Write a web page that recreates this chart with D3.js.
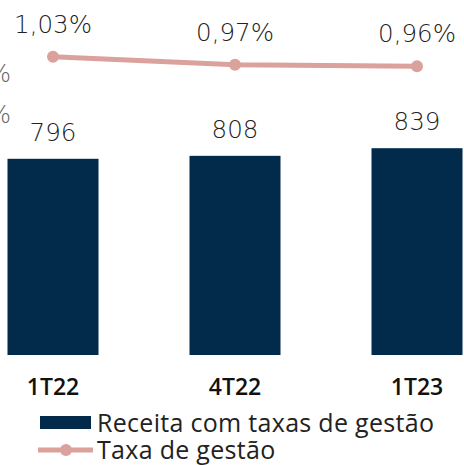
<!DOCTYPE html>
<meta charset="utf-8">
<style>
  body { margin: 0; background: #fff; }
  .val { font-family: "DejaVu Sans", sans-serif; font-weight: 200; font-size: 24.5px; fill: #222; }
  .xlab { font-family: "Open Sans", sans-serif; font-weight: 600; font-size: 23px; fill: #111; }
  .leg { font-family: "Open Sans", sans-serif; font-weight: 400; font-size: 25px; letter-spacing: 0.3px; fill: #222; }
  .ytick { font-family: "DejaVu Sans", sans-serif; font-weight: 200; font-size: 24.5px; fill: #666; }
</style>
<body>
<svg width="464" height="465"></svg>
<script src="https://d3js.org/d3.v7.min.js"></script>
<script>
// dados ---------------------------------------------------------------
var periodos = ["1T22", "4T22", "1T23"];
var receita = [796, 808, 839];
var taxa = [1.03, 0.97, 0.96];
var taxaTicks = [0.6, 0.9];
var legendas = ["Receita com taxas de gestão", "Taxa de gestão"];
//----------------------------------------------------------------------

const svg = d3.select('svg');
const navy = "#022b4b", rosa = "#dba19c";
const fmt = v => d3.format(".2f")(v).replace(".", ",") + "%";

// escala x: o grafico original esta cortado nas bordas
const x = d3.scaleBand().domain(periodos).range([-38, 508]).paddingInner(0.5).paddingOuter(0.25);
const y = d3.scaleLinear().domain([0, 839]).range([355, 148.2]);
const y2 = d3.scaleLinear().domain([0.6, 1.03]).range([114.8, 56.7]);

// eixo secundario (so o "%" aparece)
svg.append("g").selectAll("text")
  .data(taxaTicks).enter().append("text")
  .attr("class", "ytick")
  .attr("x", 11)
  .attr("y", d => y2(d) + 8)
  .attr("text-anchor", "end")
  .text(fmt);

// barras
svg.selectAll(".bar")
  .data(receita).enter().append("rect")
  .attr("class", "bar")
  .attr("x", (d, i) => x(periodos[i]))
  .attr("width", x.bandwidth())
  .attr("y", d => y(d))
  .attr("height", d => y(0) - y(d))
  .attr("fill", navy);

svg.selectAll(".blab")
  .data(receita).enter().append("text")
  .attr("class", "val")
  .attr("x", (d, i) => x(periodos[i]) + x.bandwidth() / 2)
  .attr("y", d => y(d) - 18)
  .attr("text-anchor", "middle")
  .text(d => d);

// linha
const cx = (d, i) => x(periodos[i]) + x.bandwidth() / 2;
svg.append("path")
  .datum(taxa)
  .attr("fill", "none")
  .attr("stroke", rosa)
  .attr("stroke-width", 5)
  .attr("d", d3.line().x(cx).y(d => y2(d)));

svg.selectAll(".pt")
  .data(taxa).enter().append("circle")
  .attr("cx", cx)
  .attr("cy", d => y2(d))
  .attr("r", 6)
  .attr("fill", rosa);

svg.selectAll(".tlab")
  .data(taxa).enter().append("text")
  .attr("class", "val")
  .attr("x", cx)
  .attr("y", d => y2(d) - 24)
  .attr("text-anchor", "middle")
  .text(fmt);

// eixo x
const xAxis = svg.append("g")
  .attr("transform", "translate(0,355)")
  .call(d3.axisBottom(x).tickSize(0).tickPadding(24));
xAxis.select(".domain").remove();
xAxis.selectAll("text").attr("class", "xlab").attr("fill", null)
  .attr("font-size", null).attr("font-family", null);

// legenda
const leg = svg.append("g");
leg.append("rect").attr("x", 40).attr("y", 416).attr("width", 51).attr("height", 13).attr("fill", navy);
leg.append("text").attr("class", "leg").attr("x", 97).attr("y", 432).text(legendas[0]);
leg.append("line").attr("x1", 38).attr("x2", 93).attr("y1", 450).attr("y2", 450)
  .attr("stroke", rosa).attr("stroke-width", 5);
leg.append("circle").attr("cx", 66).attr("cy", 450).attr("r", 6).attr("fill", rosa);
leg.append("text").attr("class", "leg").attr("x", 97).attr("y", 459).text(legendas[1]);
</script>
</body>
